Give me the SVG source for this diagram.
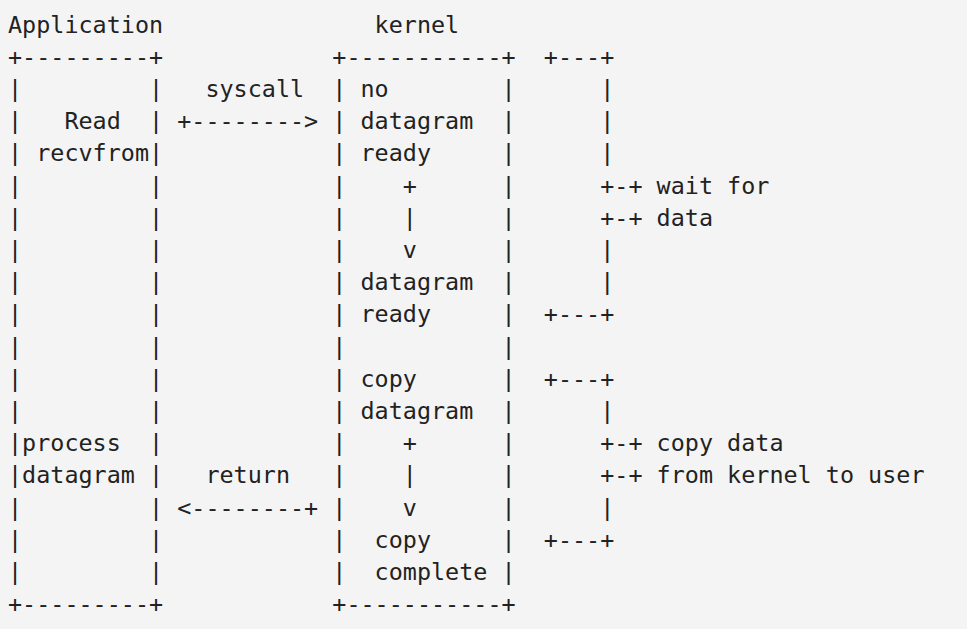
<svg xmlns="http://www.w3.org/2000/svg" width="967" height="629" viewBox="0 0 967 629" xml:space="preserve">
<style>
.t{font-family:"DejaVu Sans Mono","Liberation Mono",monospace;font-size:23.4px;fill:#222;white-space:pre}
</style>
<rect width="967" height="629" fill="#f4f4f4"/>
<g transform="translate(0,2.5)">
<g id="application">
<text class="t" x="8" y="30" textLength="155.1" lengthAdjust="spacing">Application</text>
<text class="t" x="8" y="62.2" textLength="155.1" lengthAdjust="spacing">+---------+</text>
<text class="t" x="8" y="609.6" textLength="155.1" lengthAdjust="spacing">+---------+</text>
<text class="t" x="8" y="94.4">|</text><text class="t" x="149" y="94.4">|</text>
<text class="t" x="8" y="126.6">|</text><text class="t" x="149" y="126.6">|</text>
<text class="t" x="8" y="158.8">|</text><text class="t" x="149" y="158.8">|</text>
<text class="t" x="8" y="191">|</text><text class="t" x="149" y="191">|</text>
<text class="t" x="8" y="223.2">|</text><text class="t" x="149" y="223.2">|</text>
<text class="t" x="8" y="255.4">|</text><text class="t" x="149" y="255.4">|</text>
<text class="t" x="8" y="287.6">|</text><text class="t" x="149" y="287.6">|</text>
<text class="t" x="8" y="319.8">|</text><text class="t" x="149" y="319.8">|</text>
<text class="t" x="8" y="352">|</text><text class="t" x="149" y="352">|</text>
<text class="t" x="8" y="384.2">|</text><text class="t" x="149" y="384.2">|</text>
<text class="t" x="8" y="416.4">|</text><text class="t" x="149" y="416.4">|</text>
<text class="t" x="8" y="448.6">|</text><text class="t" x="149" y="448.6">|</text>
<text class="t" x="8" y="480.8">|</text><text class="t" x="149" y="480.8">|</text>
<text class="t" x="8" y="513">|</text><text class="t" x="149" y="513">|</text>
<text class="t" x="8" y="545.2">|</text><text class="t" x="149" y="545.2">|</text>
<text class="t" x="8" y="577.4">|</text><text class="t" x="149" y="577.4">|</text>
<text class="t" x="64.4" y="126.6" textLength="56.4" lengthAdjust="spacing">Read</text>
<text class="t" x="36.2" y="158.8" textLength="112.8" lengthAdjust="spacing">recvfrom</text>
<text class="t" x="22.1" y="448.6" textLength="98.7" lengthAdjust="spacing">process</text>
<text class="t" x="22.1" y="480.8" textLength="112.8" lengthAdjust="spacing">datagram</text>
</g>
<g id="kernel">
<text class="t" x="374.6" y="30" textLength="84.6" lengthAdjust="spacing">kernel</text>
<text class="t" x="332.3" y="62.2" textLength="183.3" lengthAdjust="spacing">+-----------+</text>
<text class="t" x="332.3" y="609.6" textLength="183.3" lengthAdjust="spacing">+-----------+</text>
<text class="t" x="332.3" y="94.4">|</text><text class="t" x="501.5" y="94.4">|</text>
<text class="t" x="332.3" y="126.6">|</text><text class="t" x="501.5" y="126.6">|</text>
<text class="t" x="332.3" y="158.8">|</text><text class="t" x="501.5" y="158.8">|</text>
<text class="t" x="332.3" y="191">|</text><text class="t" x="501.5" y="191">|</text>
<text class="t" x="332.3" y="223.2">|</text><text class="t" x="501.5" y="223.2">|</text>
<text class="t" x="332.3" y="255.4">|</text><text class="t" x="501.5" y="255.4">|</text>
<text class="t" x="332.3" y="287.6">|</text><text class="t" x="501.5" y="287.6">|</text>
<text class="t" x="332.3" y="319.8">|</text><text class="t" x="501.5" y="319.8">|</text>
<text class="t" x="332.3" y="352">|</text><text class="t" x="501.5" y="352">|</text>
<text class="t" x="332.3" y="384.2">|</text><text class="t" x="501.5" y="384.2">|</text>
<text class="t" x="332.3" y="416.4">|</text><text class="t" x="501.5" y="416.4">|</text>
<text class="t" x="332.3" y="448.6">|</text><text class="t" x="501.5" y="448.6">|</text>
<text class="t" x="332.3" y="480.8">|</text><text class="t" x="501.5" y="480.8">|</text>
<text class="t" x="332.3" y="513">|</text><text class="t" x="501.5" y="513">|</text>
<text class="t" x="332.3" y="545.2">|</text><text class="t" x="501.5" y="545.2">|</text>
<text class="t" x="332.3" y="577.4">|</text><text class="t" x="501.5" y="577.4">|</text>
<text class="t" x="360.5" y="94.4" textLength="28.2" lengthAdjust="spacing">no</text>
<text class="t" x="360.5" y="126.6" textLength="112.8" lengthAdjust="spacing">datagram</text>
<text class="t" x="360.5" y="158.8" textLength="70.5" lengthAdjust="spacing">ready</text>
<text class="t" x="402.8" y="191">+</text>
<text class="t" x="402.8" y="223.2">|</text>
<text class="t" x="402.8" y="255.4">v</text>
<text class="t" x="360.5" y="287.6" textLength="112.8" lengthAdjust="spacing">datagram</text>
<text class="t" x="360.5" y="319.8" textLength="70.5" lengthAdjust="spacing">ready</text>
<text class="t" x="360.5" y="384.2" textLength="56.4" lengthAdjust="spacing">copy</text>
<text class="t" x="360.5" y="416.4" textLength="112.8" lengthAdjust="spacing">datagram</text>
<text class="t" x="402.8" y="448.6">+</text>
<text class="t" x="402.8" y="480.8">|</text>
<text class="t" x="402.8" y="513">v</text>
<text class="t" x="374.6" y="545.2" textLength="56.4" lengthAdjust="spacing">copy</text>
<text class="t" x="374.6" y="577.4" textLength="112.8" lengthAdjust="spacing">complete</text>
</g>
<g id="wait-for-data">
<text class="t" x="543.8" y="62.2" textLength="70.5" lengthAdjust="spacing">+---+</text>
<text class="t" x="600.2" y="94.4">|</text>
<text class="t" x="600.2" y="126.6">|</text>
<text class="t" x="600.2" y="158.8">|</text>
<text class="t" x="600.2" y="191" textLength="169.2" lengthAdjust="spacing">+-+ wait for</text>
<text class="t" x="600.2" y="223.2" textLength="112.8" lengthAdjust="spacing">+-+ data</text>
<text class="t" x="600.2" y="255.4">|</text>
<text class="t" x="600.2" y="287.6">|</text>
<text class="t" x="543.8" y="319.8" textLength="70.5" lengthAdjust="spacing">+---+</text>
</g>
<g id="copy-data">
<text class="t" x="543.8" y="384.2" textLength="70.5" lengthAdjust="spacing">+---+</text>
<text class="t" x="600.2" y="416.4">|</text>
<text class="t" x="600.2" y="448.6" textLength="183.3" lengthAdjust="spacing">+-+ copy data</text>
<text class="t" x="600.2" y="480.8" textLength="324.3" lengthAdjust="spacing">+-+ from kernel to user</text>
<text class="t" x="600.2" y="513">|</text>
<text class="t" x="543.8" y="545.2" textLength="70.5" lengthAdjust="spacing">+---+</text>
</g>
<g id="connectors">
<text class="t" x="205.4" y="94.4" textLength="98.7" lengthAdjust="spacing">syscall</text>
<text class="t" x="177.2" y="126.6" textLength="141" lengthAdjust="spacing">+--------&gt;</text>
<text class="t" x="205.4" y="480.8" textLength="84.6" lengthAdjust="spacing">return</text>
<text class="t" x="177.2" y="513" textLength="141" lengthAdjust="spacing">&lt;--------+</text>
</g>
</g>
</svg>
